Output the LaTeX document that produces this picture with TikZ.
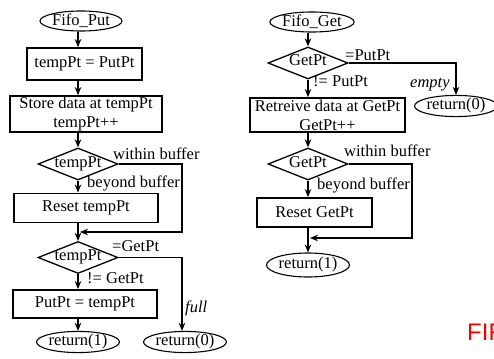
\documentclass[tikz,border=0pt]{standalone}
\usepackage{fontspec}
\setmainfont{Liberation Serif}
\setsansfont{Liberation Sans}
\usetikzlibrary{shapes.geometric,arrows.meta}
\newcommand{\dtext}[1]{\makebox[16pt]{#1}}
\begin{document}
\begin{tikzpicture}[x=1pt,y=-1pt,
  font=\fontsize{16.5}{19}\selectfont,
  termbox/.style={draw,ellipse,line width=1.1pt,inner sep=0pt,minimum height=20pt},
  procbox/.style={draw,rectangle,line width=1.8pt,inner sep=0pt,align=center},
  decbox/.style={draw,diamond,aspect=2.5,line width=1.3pt,inner sep=0pt,minimum width=80pt,minimum height=32pt,text height=8pt,text depth=2pt},
  flow/.style={line width=1.8pt,-{Stealth[length=8pt,width=6.5pt]}},
  lbl/.style={inner sep=0pt,anchor=base west}]
\useasboundingbox (0,0) rectangle (494,358);
% ---------------- Fifo_Put ----------------
\node[termbox,minimum width=82pt] (pstart) at (81,21) {Fifo\_Put};
\node[procbox,minimum width=115pt,minimum height=32pt] (p1) at (84.5,64) {tempPt = PutPt};
\node[procbox,minimum width=152pt,minimum height=36pt] (p2) at (86,114) {Store data at tempPt\\tempPt++};
\node[decbox] (pd1) at (78,164) {\dtext{tempPt}};
\node[procbox,minimum width=144pt,minimum height=29pt] (p3) at (86,208) {Reset tempPt};
\node[decbox] (pd2) at (78,257.5) {\dtext{tempPt}};
\node[procbox,minimum width=144pt,minimum height=28pt] (p4) at (85,304) {PutPt = tempPt};
\node[termbox,minimum width=81pt] (pr1) at (78,342) {return(1)};
\node[termbox,minimum width=78pt] (pr0) at (185,342) {return(0)};
\coordinate (pright) at (182,0);
\coordinate (pjoin) at (80,232);
\draw[flow] (pd1.north |- pstart.south) -- (pd1.north |- p1.north);
\draw[flow] (pd1.north |- p1.south) -- (pd1.north |- p2.north);
\draw[flow] (pd1.north |- p2.south) -- (pd1.north);
\draw[flow] (pd1.south) -- (pd1.south |- p3.north);
\draw[flow] (pd1.south |- p3.south) -- (pd2.north);
\draw[flow] (pd1.east) -- (pd1.east -| pright) |- (pjoin);
\draw[flow] (pd2.east) -- (pd2.east -| pright) -- (pright |- pr0.north);
\draw[flow] (pd2.south) -- (pd2.south |- p4.north);
\draw[flow] (pd2.south |- p4.south) -- (pr1.north);
\node[lbl] (l1) at (113,159) {within buffer};
\node[lbl] (l2) at (87,187) {beyond buffer};
\node[lbl] (l3) at (112,251) {=GetPt};
\node[lbl] (l4) at (87,283) {!= GetPt};
\node[lbl] (l5) at (185,312) {\itshape full};
% ---------------- Fifo_Get ----------------
\node[termbox,minimum width=81pt] (gstart) at (312,22) {Fifo\_Get};
\node[decbox] (gd1) at (308,63) {\dtext{GetPt}};
\node[termbox,minimum width=76pt] (gr0) at (456,106) {return(0)};
\node[procbox,minimum width=155pt,minimum height=34pt] (g1) at (327.5,115) {Retreive data at GetPt\\GetPt++};
\node[decbox] (gd2) at (308,164) {\dtext{GetPt}};
\node[procbox,minimum width=115pt,minimum height=29pt] (g2) at (314.5,212.5) {Reset GetPt};
\node[termbox,minimum width=81pt,minimum height=24pt] (gr1) at (308,265) {return(1)};
\coordinate (gright) at (412,0);
\coordinate (gjoin) at (310,238);
\draw[flow] (gd1.north |- gstart.south) -- (gd1.north);
\draw[flow] (gd1.east) -| (gr0.north);
\draw[flow] (gd1.south) -- (gd1.south |- g1.north);
\draw[flow] (gd1.south |- g1.south) -- (gd2.north);
\draw[flow] (gd2.south) -- (gd2.south |- g2.north);
\draw[flow] (gd2.south |- g2.south) -- (gr1.north);
\draw[flow] (gd2.east) -- (gd2.east -| gright) |- (gjoin);
\node[lbl] (r1) at (345,61) {=PutPt};
\node[lbl] (r2) at (313,87) {!= PutPt};
\node[lbl] (r3) at (410,88) {\itshape empty};
\node[lbl] (r4) at (344,157) {within buffer};
\node[lbl] (r5) at (317,189) {beyond buffer};
% ---------------- clipped title ----------------
\node[anchor=base west,inner sep=0pt,text=red,font=\sffamily\fontsize{24}{28}\selectfont] (fif) at (467,340) {FIF};
\end{tikzpicture}
\end{document}
